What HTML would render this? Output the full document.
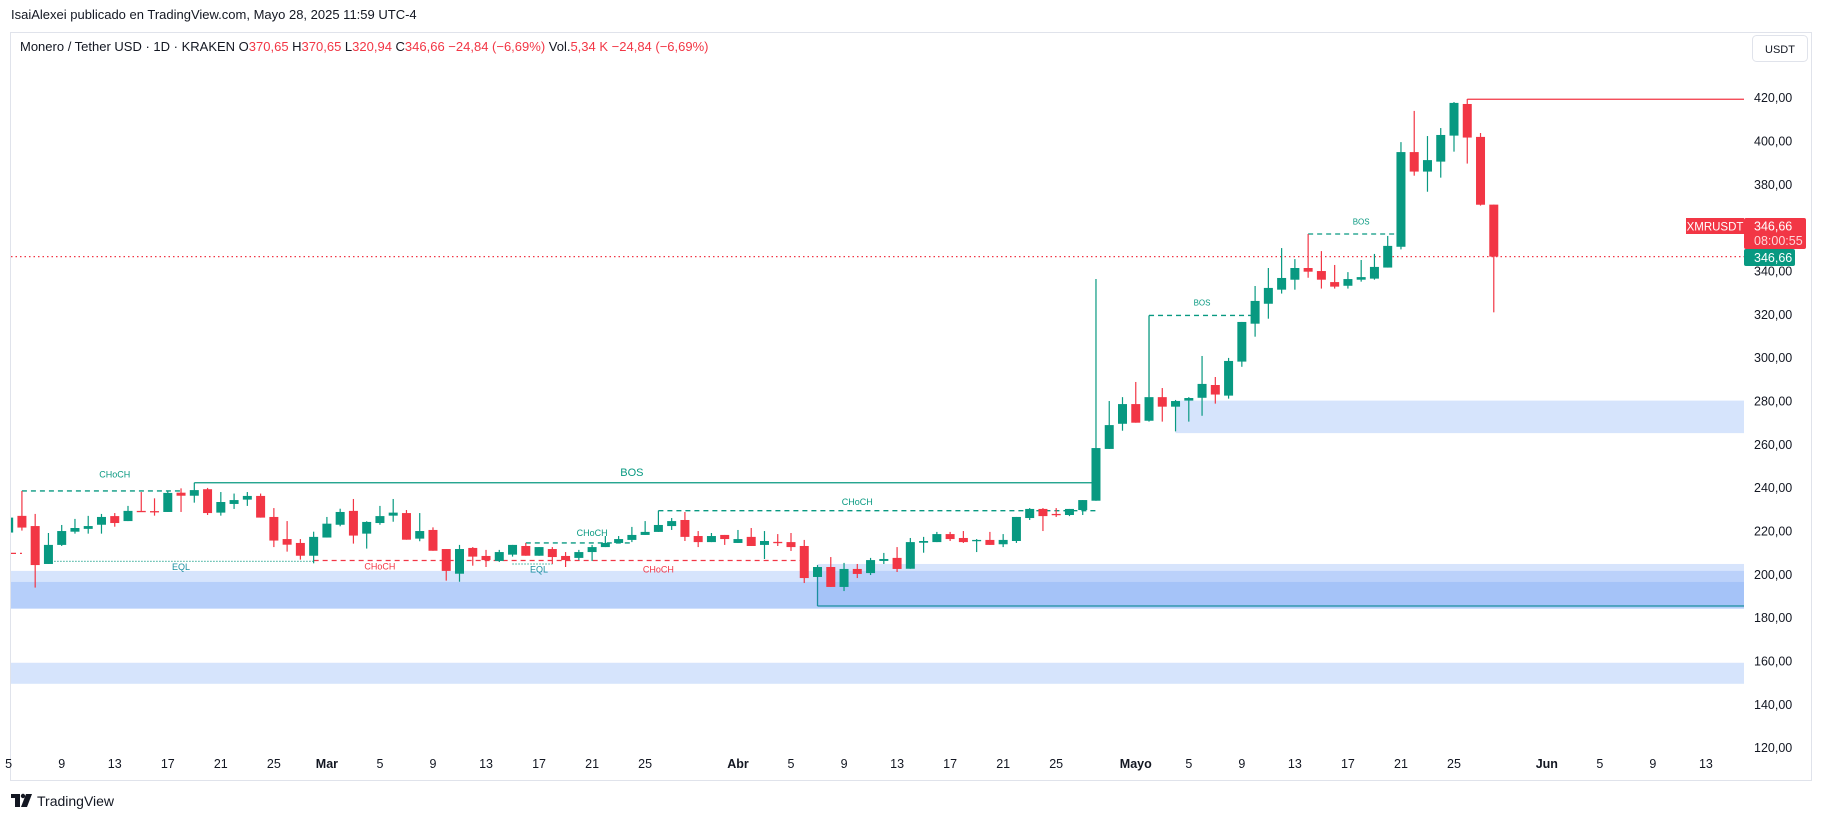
<!DOCTYPE html>
<html><head><meta charset="utf-8">
<style>
html,body{margin:0;padding:0;background:#fff;width:1826px;height:820px;overflow:hidden}
svg{display:block}
text{font-family:"Liberation Sans",sans-serif}
</style></head>
<body>
<svg id="chart" width="1826" height="820" viewBox="0 0 1826 820" xmlns="http://www.w3.org/2000/svg">
  <text x="11" y="19" font-size="13" fill="#131722">IsaiAlexei publicado en TradingView.com, Mayo 28, 2025 11:59 UTC-4</text>
  <rect x="10.5" y="32.5" width="1801" height="748" fill="#fff" stroke="#e0e3eb"/>
  <g id="zones"></g>
  <g id="lines"></g>
  <g id="candles"></g>
  <g id="axes"></g>
  <text x="20" y="51" font-size="13" fill="#131722">Monero / Tether USD · 1D · KRAKEN  O<tspan fill="#f23645">370,65</tspan>  H<tspan fill="#f23645">370,65</tspan>  L<tspan fill="#f23645">320,94</tspan>  C<tspan fill="#f23645">346,66  −24,84 (−6,69%)</tspan>  Vol.<tspan fill="#f23645">5,34 K  −24,84 (−6,69%)</tspan></text>
  <g>
    <rect x="1752.5" y="35.5" width="55" height="26" rx="4" fill="#fff" stroke="#e0e3eb"/>
    <text x="1780" y="53" font-size="11" text-anchor="middle" fill="#131722">USDT</text>
  </g>
  <g>
    <rect x="11" y="794" width="9" height="4" fill="#131722"/>
    <rect x="15" y="794" width="5" height="13" fill="#131722"/>
    <circle cx="23" cy="796" r="2.2" fill="#131722"/>
    <polygon points="26,794 32,794 27,807 21,807" fill="#131722"/>
    <text x="37" y="806" font-size="14" fill="#131722">TradingView</text>
  </g>
</svg>
<script>
// ---- data (day index: 0 = Feb 1 2025) ----
const days   = [4,5,6,7,8,9,10,11,12,13,14,15,16,17,18,19,20,21,22,23,24,25,26,27,28,29,30,31,32,33,34,35,36,37,38,39,40,41,42,43,44,45,46,47,48,49,50,51,52,53,54,55,56,57,58,59,60,61,62,63,64,65,66,67,68,69,70,71,72,73,74,75,76,77,78,79,80,81,82,83,84,85,86,87,88,89,90,91,92,93,94,95,96,97,98,99,100,101,102,103,104,105,106,107,108,109,110,111,112,113,114,115,116];
const opens  = [219.3,227,222.3,204.8,213.6,219.7,221,222.9,226.9,224.6,229.3,229.2,228.8,237.7,236.3,239.3,228.5,232.5,234.5,236.2,226.5,216.3,214.5,208.6,217,222.9,229.3,218.8,223.7,227.1,228.3,216.5,220.5,211.7,200.3,212.2,208.5,206.2,209.1,213.1,208.6,211.7,208.5,207.6,210.3,212.6,214.5,215.9,218.2,219.6,222.3,225.1,217.7,214.9,218.2,214.5,217.3,213.6,215,214.9,213.1,198.8,203.4,194.2,202.5,200.6,206.2,207.6,202.6,214.6,214.9,218.6,216.8,215.6,215.9,213.9,215.4,226,230.2,227.9,227.4,229.7,234,257.9,269.5,278.6,270.9,281.8,277.4,280.2,281.5,287.4,282.5,298.2,315.7,324.9,331.4,336,341.4,340,334.9,333.2,336,336.5,341.6,351.2,394.9,385.9,390.5,402.5,417.1,401.9,370.65];
const highs  = [227,238.5,227.9,219.1,222.8,225.6,227,227.9,228.3,231.6,238,235.1,238.3,239.7,242.3,239.9,238,237.3,238,237.3,230.6,224.6,216.3,219.7,226.5,230.3,234.8,224.5,231.6,234.8,229.7,228.3,221.7,211.7,213.6,212.6,211.3,211.3,213.6,214.5,212.6,212.6,210.3,211.3,213.6,217.7,217.7,221.9,224.6,229.4,226,228.8,220,219.1,218.2,220.5,221.4,220,218.6,219.1,215.9,204.3,208,205.3,204.8,207.6,209.9,212.6,216.8,217.3,219.6,219.6,220,216.3,219.6,218.6,226.5,230.6,230.6,230.6,230.2,234.3,336.3,280,281.8,288.8,281.8,286,280.5,281.8,300.8,291.1,299.9,316.5,333.1,341.4,350.6,345.5,357.1,349.2,342.8,339.5,345.1,347.9,356.2,399.5,413.9,402.3,406,418,419.4,403.7,370.65];
const lows   = [218,220.2,193.9,204.8,213.1,218.8,218.8,218.8,222,224.6,228.8,227.1,228.8,228.8,233.1,227.4,227.1,230.2,231.6,226.2,212.6,210.5,206.8,205.1,217,222.2,214.2,211.9,222.9,224.3,216,215.3,210.9,197.1,196.6,204,203.4,205.7,208.2,208.6,208.6,204.8,203.4,206.6,206.2,212.6,214.5,214.9,218.2,219.6,220.5,215.4,212.6,214.9,213.6,214.5,213.1,207.1,213.1,210.8,196,198.8,194.2,192.3,198.3,199.7,204.8,201.1,202.6,210,214.9,215.4,214.5,210.3,213.6,212.6,214.5,225.1,220,226.5,226.9,227.4,234,257.9,266.3,270,270.5,270.5,266,270.5,273.2,278.8,281.1,295.8,309.7,318,329.6,331.4,336.9,331.9,331.9,331.9,335.1,336,341.6,350,384,376.6,383.1,395.1,389.6,370.2,320.94];
const closes = [226.2,221.6,204.3,213.6,220,221.4,222.3,226.5,223.7,229.3,229.1,229,237.6,236.3,238.9,228.3,233.4,234.3,236.2,226.2,215.6,213.7,208.6,217.3,223.4,228.8,217.9,224.2,226.9,228.5,216,220,210.9,201.6,211.7,208.2,206.6,210.3,213.6,208.6,212.6,208,206.6,210.3,212.6,214.5,216.3,218.2,219.6,222.8,224.6,217.3,214.9,217.7,216.3,216.3,213.1,215.4,214.7,212.6,198.3,203.4,194.2,202.5,200.2,206.6,207.1,202.5,214.9,215.4,218.6,216.3,214.9,215.9,213.6,215.9,226.5,230.2,226.9,227.6,230.2,234.3,258.3,268.9,278.6,270,281.8,277.4,280,281.4,287.9,283,298.5,316.5,326.2,332.2,336.8,341.4,339.7,336,332.8,336.3,337.2,341.9,351.6,394.9,385.9,391.2,402.8,417.6,401.6,370.6,346.66];
const priceTicks = [120,140,160,180,200,220,240,260,280,300,320,340,360,380,400,420];
const timeTickDays = [4,8,12,16,20,24,28,32,36,40,44,48,52,59,63,67,71,75,79,83,89,93,97,101,105,109,113,120,124,128,132];
const timeTickLabels = ["5","9","13","17","21","25","Mar","5","9","13","17","21","25","Abr","5","9","13","17","21","25","Mayo","5","9","13","17","21","25","Jun","5","9","13"];
const lastPrice = 346.66;

// ---- scales ----
const X0 = 11, X1 = 1744;
function x(d){ return 61.7 + (d - 8) * 13.26; }
function y(p){ return 97.7 + (420 - p) * 2.1667; }

const NS = "http://www.w3.org/2000/svg";
function mk(tag, attrs, parent){
  const e = document.createElementNS(NS, tag);
  for (const k in attrs) e.setAttribute(k, attrs[k]);
  parent.appendChild(e);
  return e;
}
const svg = document.getElementById('chart');
const defs = mk('defs', {}, svg);
const cp = mk('clipPath', {id:'pane'}, defs);
mk('rect', {x:X0, y:33, width:X1-X0, height:705}, cp);
const zones = document.getElementById('zones');
const lines = document.getElementById('lines');
const cg = document.getElementById('candles');
const axes = document.getElementById('axes');
zones.setAttribute('clip-path','url(#pane)');
cg.setAttribute('clip-path','url(#pane)');
lines.setAttribute('clip-path','url(#pane)');

// ---- zones ----
function zone(name, xa, xb, pTop, pBot, fill){
  const r = mk('rect', {x:xa, y:y(pTop), width:xb-xa, height:y(pBot)-y(pTop), fill:fill}, zones);
  
  
}
zone('demand-zone-outer', X0, X1, 201.6, 184.2, 'rgba(173,201,250,0.5)');
zone('demand-zone-inner', X0, X1, 196.5, 184.2, 'rgba(150,185,248,0.5)');
zone('demand-zone-april', x(65), X1, 204.8, 185.4, 'rgba(130,170,246,0.32)');
zone('lower-zone', X0, X1, 159.2, 149.5, 'rgba(173,201,250,0.5)');
zone('may-zone', x(92), X1, 280.2, 265.2, 'rgba(173,201,250,0.5)');

// ---- structure lines ----
function hline(name, xa, xb, p, color, dash){
  const l = mk('line', {x1:xa, x2:xb, y1:y(p), y2:y(p), stroke:color, 'stroke-width':1.3}, lines);
  if (dash) l.setAttribute('stroke-dasharray', dash);
  
  
}
function vline(name, xv, pa, pb, color){
  const l = mk('line', {x1:xv, x2:xv, y1:y(pa), y2:y(pb), stroke:color, 'stroke-width':1.3}, lines);
  
  
}
function label(name, xv, p, txt, color, size){
  const t = mk('text', {x:xv, y:y(p), 'font-size':size||9, fill:color, 'text-anchor':'middle'}, lines);
  t.textContent = txt;
  
  
}
const G = '#089981', R = '#f23645', T = '#1a8fa0';
hline('choch-line-1', x(5), x(17), 238.5, G, '5,4');
label('choch-label-1', x(12), 244.6, 'CHoCH', G);
hline('bos-line-main', x(18), x(86), 242.3, G);
label('bos-label-main', x(51), 245.3, 'BOS', G, 11);
hline('choch-red-left', X0, x(5), 209.7, R, '5,4');
hline('eql-line-1', x(7), x(27), 206.0, G, '1,2');
label('eql-label-1', x(17), 202.0, 'EQL', T);
hline('choch-red-1', x(27), x(64), 206.4, R, '5,4');
label('choch-red-label-1', x(32), 202.3, 'CHoCH', R);
hline('eql-line-2', x(42), x(45), 204.8, G, '1,2');
label('eql-label-2', x(44), 200.8, 'EQL', T);
label('choch-red-label-2', x(53), 200.8, 'CHoCH', R);
hline('choch-line-2', x(43), x(51), 214.5, G, '5,4');
label('choch-label-2', x(48), 217.7, 'CHoCH', G);
hline('choch-line-3', x(53), x(86), 229.4, G, '5,4');
label('choch-label-3', x(68), 232.0, 'CHoCH', G);
vline('april-box-left', x(65), 198.8, 185.4, T);
hline('april-box-bottom', x(65), X1, 185.4, T);
hline('bos-line-2', x(90), x(98), 319.5, G, '5,4');
vline('bos-line-2-anchor', x(90), 319.5, 281.8, G);
label('bos-label-2', x(94), 324.0, 'BOS', G, 8);
hline('bos-line-3', x(102), x(109), 357.1, G, '5,4');
label('bos-label-3', x(106), 361.5, 'BOS', G, 8);
hline('high-line', x(114), X1, 419.3, R);
hline('last-price-line', X0, X1, lastPrice, R, '1.5,3');

// ---- candles ----
for (let i = 0; i < days.length; i++){
  const up = closes[i] >= opens[i];
  const col = up ? G : R;
  const cx = x(days[i]);
  const g = mk('g', {}, cg);
  
  
  mk('line', {x1:cx, x2:cx, y1:y(highs[i]), y2:y(lows[i]), stroke:col, 'stroke-width':1.2}, g);
  const top = y(Math.max(opens[i], closes[i]));
  const h = Math.max(1.3, y(Math.min(opens[i], closes[i])) - top);
  mk('rect', {x:cx-4.5, y:top, width:9, height:h, fill:col}, g);
}

// ---- price axis ----
for (let i = 0; i < priceTicks.length; i++){
  const t = mk('text', {x:1754, y:y(priceTicks[i])+4.5, 'font-size':12.5, fill:'#131722'}, axes);
  t.textContent = priceTicks[i].toFixed(2).replace('.', ',');
  
  
}
// ---- time axis ----
for (let i = 0; i < timeTickDays.length; i++){
  const bold = isNaN(parseInt(timeTickLabels[i]));
  const tx = x(timeTickDays[i]);
  if (tx < 6) continue;
  const t = mk('text', {x:tx, y:768, 'font-size':12.5, fill:'#131722', 'text-anchor':'middle', 'font-weight': bold?'bold':'normal'}, axes);
  t.textContent = timeTickLabels[i];
  
  
}
// ---- last price labels ----
const ly = y(lastPrice);
const sym = mk('g', {}, axes);


mk('rect', {x:1686, y:218, width:58, height:16, fill:R}, sym);
const st = mk('text', {x:1715, y:230.5, 'font-size':11.5, fill:'#fff', 'text-anchor':'middle'}, sym);
st.textContent = 'XMRUSDT';
mk('rect', {x:1744, y:218, width:62, height:31, rx:2, fill:R}, sym);
const p1 = mk('text', {x:1754, y:230.5, 'font-size':12.5, fill:'#fff'}, sym);
p1.textContent = '346,66';
const p2 = mk('text', {x:1754, y:245, 'font-size':12.5, fill:'#ffd5d8'}, sym);
p2.textContent = '08:00:55';
const gl = mk('g', {}, axes);


mk('rect', {x:1744, y:249, width:51, height:17, rx:2, fill:G}, gl);
const p3 = mk('text', {x:1754, y:262, 'font-size':12.5, fill:'#fff'}, gl);
p3.textContent = '346,66';
</script>
</body></html>
